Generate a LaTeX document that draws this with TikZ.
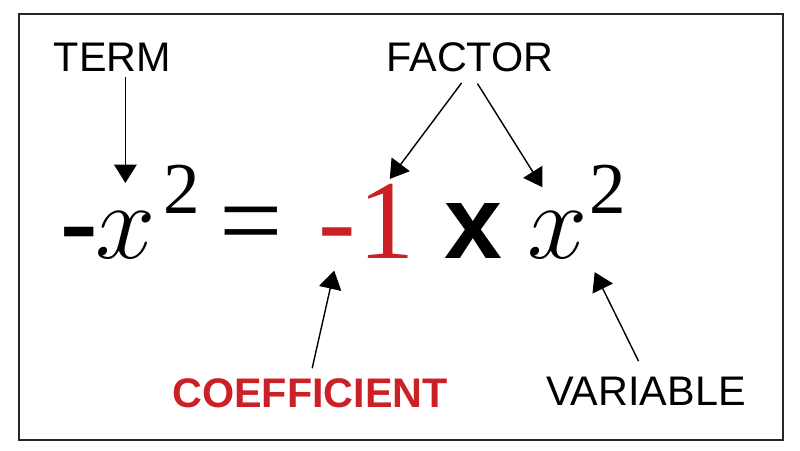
\RequirePackage{fix-cm}
\documentclass[tikz,border=0pt]{standalone}
\usepackage{fontspec}
\setmainfont{Liberation Serif}
\setsansfont{Liberation Sans}
\newfontfamily\eqfont{Liberation Serif}
\usetikzlibrary{arrows.meta}
\definecolor{coefred}{RGB}{204,32,39}

\begin{document}
\begin{tikzpicture}[x=0.025cm,y=-0.025cm,
    tag/.style={font=\sffamily\fontsize{29.4}{34}\selectfont, inner sep=0pt, anchor=base},
    sym/.style={font=\eqfont\fontsize{80}{90}\selectfont, inner sep=0pt, anchor=base west},
    unknown/.style={sym, font=\fontsize{77}{90}\selectfont},
    exponent/.style={font=\eqfont\fontsize{52}{60}\selectfont, inner sep=0pt, anchor=base west},
    pointer/.style={-{Triangle[length=13pt,width=16pt]}, line width=1pt}]
            \useasboundingbox (0,0) rectangle (800,450);
            \draw[line width=1.4pt, black!85] (19,14) rectangle (783,440);

            % the equation
            \node[sym] (neg) at (60,258) {\bfseries -};
            \node[unknown] (lhsx) at (95,258) {$x$};
            \node[exponent] (lhsexp) at (163,213) {2};
            \node[sym] (eq) at (219,258) {=};
            \node[sym, coefred] (negsign) at (318,258) {-};
            \node[sym, coefred] (one) at (358,258) {1};
            \node[sym, font=\sffamily\bfseries\fontsize{74}{80}\selectfont] (times) at (444,258) {x};
            \node[unknown] (rhsx) at (527,258) {$x$};
            \node[exponent] (rhsexp) at (589,213) {2};

            % the names
            \node[tag] (term) at (112.5,71) {TERM};
            \node[tag] (factor) at (470,71) {FACTOR};
            \node[tag, coefred, font=\sffamily\bfseries\fontsize{29.4}{34}\selectfont] (coef) at (310,407) {COEFFICIENT};
            \node[tag] (var) at (646,405) {VARIABLE};

            \draw[pointer, shorten <=4pt, shorten >=20pt] (term.south -| lhsx.north) -- (lhsx.north);
            \draw[pointer, shorten <=10pt, shorten >=4pt] (factor.south) -- (one.north);
            \draw[pointer, shorten <=10pt, shorten >=20pt] (factor.south) -- (rhsx.north);
            \draw[pointer, shorten <=7pt, shorten >=9pt] (coef.north) -- (negsign.south);
            \draw[pointer, shorten <=12pt, shorten >=11pt] (var.north) -- (rhsx.south east);
\end{tikzpicture}
\end{document}
